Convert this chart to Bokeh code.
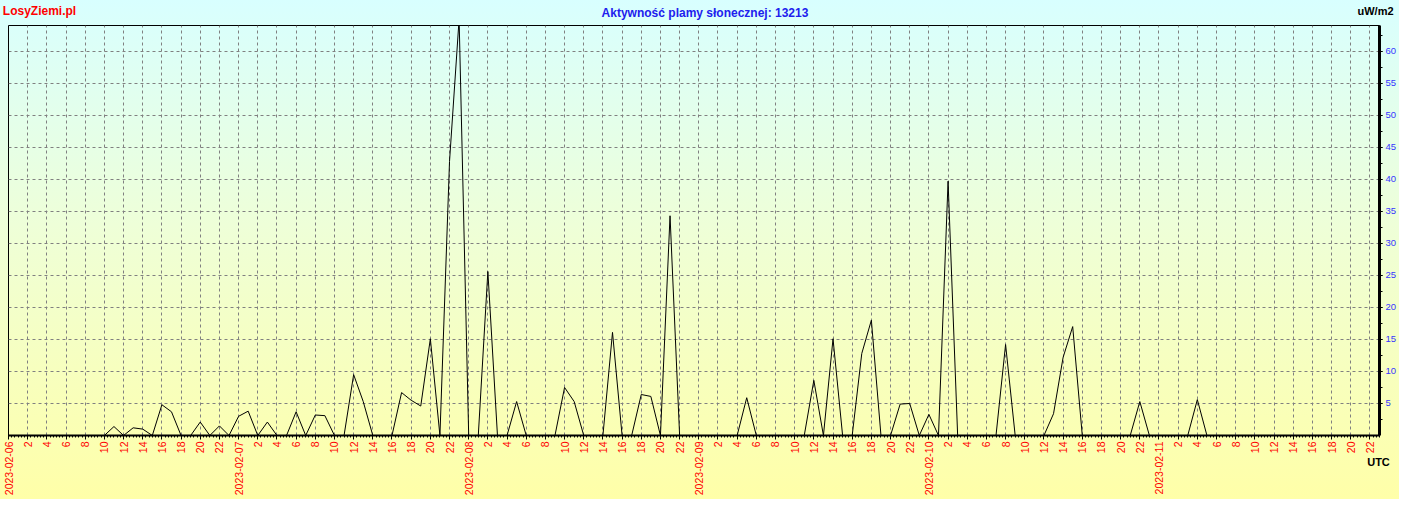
import math
from bokeh.plotting import figure
from bokeh.models import FixedTicker, Range1d, LinearAxis
from bokeh.embed import file_html
from bokeh.resources import INLINE

# ---- data -------------------------------------------------------------
title_text = "Aktywność plamy słonecznej: 13213"
site_text = "LosyZiemi.pl"
unit_text = "uW/m2"
time_text = "UTC"

dates = ["2023-02-06", "2023-02-07", "2023-02-08", "2023-02-09", "2023-02-10", "2023-02-11"]

# hourly values (uW/m2), hour 0 = 2023-02-06 00 UTC
day1 = [0, 0, 0, 0, 0, 0, 0, 0, 0, 0, 0, 1.4, 0, 1.2, 1.0, 0, 4.8, 3.7, 0, 0, 2.1, 0, 1.5, 0]
day2 = [3.0, 3.8, 0, 2.1, 0, 0, 3.7, 0, 3.2, 3.1, 0, 0, 9.5, 5.3, 0, 0, 0, 6.7, 5.5, 4.6, 15.1, 0, 42.8, 65.0]
day3 = [0, 0, 25.6, 0, 0, 5.3, 0, 0, 0, 0, 7.5, 5.3, 0, 0, 0, 16.1, 0, 0, 6.4, 6.1, 0, 34.3, 0, 0]
day4 = [0, 0, 0, 0, 0, 5.9, 0, 0, 0, 0, 0, 0, 8.6, 0, 15.1, 0, 0, 12.8, 18.0, 0, 0, 4.9, 5.0, 0]
day5 = [3.3, 0, 39.7, 0, 0, 0, 0, 0, 14.2, 0, 0, 0, 0, 3.4, 12.2, 17.0, 0, 0, 0, 0, 0, 0, 5.3, 0]
day6 = [0, 0, 0, 0, 5.6, 0, 0, 0, 0, 0, 0, 0, 0, 0, 0, 0, 0, 0, 0, 0, 0, 0, 0, 0]

values = day1 + day2 + day3 + day4 + day5 + day6
hours = list(range(len(values)))

y_ticks = [5, 10, 15, 20, 25, 30, 35, 40, 45, 50, 55, 60]

# ---- layout constants (pixels) ----------------------------------------
W, H = 1399, 499
B_LEFT, B_RIGHT, B_TOP, B_BOTTOM = 8, 19, 25, 64
X0, X1 = 0, 143
Y0, Y1 = 0, 64
frame_w = W - B_LEFT - B_RIGHT


def hx(px):
    """canvas x pixel -> hour coordinate (kept inside the x range)"""
    return round(min(X1, max(X0, X0 + (px - B_LEFT) * (X1 - X0) / frame_w)), 3)


p = figure(width=W, height=H, output_backend="svg", toolbar_location=None,
           x_range=Range1d(X0, X1), y_range=Range1d(Y0, Y1),
           y_axis_location="right",
           min_border_left=B_LEFT, min_border_right=B_RIGHT,
           min_border_top=B_TOP, min_border_bottom=B_BOTTOM)

p.styles = {"background-image": "linear-gradient(to bottom, #D8FFFF 0%, #EEFFD8 45%, #FFFFA8 100%)"}
p.border_fill_color = None
p.background_fill_color = None
p.outline_line_color = "black"
p.outline_line_width = 1

# ---- x axis -----------------------------------------------------------
x_major = list(range(0, 143, 2))
x_minor = [i / 3 for i in range(0, 430)]
xa = p.xaxis[0]
xa.ticker = FixedTicker(ticks=x_major, minor_ticks=x_minor)
overrides = {}
for h in x_major:
    overrides[h] = dates[h // 24] if h % 24 == 0 else str(h % 24)
xa.major_label_overrides = overrides
xa.major_label_orientation = math.pi / 2
xa.major_label_text_color = "#FF0000"
xa.major_label_text_font = "Liberation Sans"
xa.major_label_text_font_size = "10.5px"
xa.major_label_standoff = 2
xa.axis_line_width = 2
xa.axis_line_color = "black"
xa.major_tick_out = 4
xa.major_tick_in = 0
xa.minor_tick_out = 2
xa.minor_tick_in = 0

# ---- y axis (right) ---------------------------------------------------
ya = p.yaxis[0]
ya.ticker = FixedTicker(ticks=y_ticks, minor_ticks=[v / 2 for v in range(5, 128, 5)])
ya.major_label_text_color = "#3535FF"
ya.major_label_text_font = "Liberation Sans"
ya.major_label_text_font_size = "9.5px"
ya.major_label_standoff = 3
ya.axis_line_width = 3
ya.axis_line_color = "black"
ya.major_tick_out = 3
ya.major_tick_in = 0
ya.minor_tick_out = 3
ya.minor_tick_in = 0

# ---- grids ------------------------------------------------------------
p.xgrid.ticker = FixedTicker(ticks=x_major)
p.ygrid.ticker = FixedTicker(ticks=y_ticks)
for g in (p.xgrid[0], p.ygrid[0]):
    g.grid_line_color = "#808080"
    g.grid_line_dash = "3 3"
    g.grid_line_width = 1

# ---- data line --------------------------------------------------------
p.line(hours, values, line_color="black", line_width=1)


# ---- texts outside the frame: label-only axes in the side panels -------
def text_axis(side, text, cx, standoff, color, size):
    hpos = hx(cx)
    ax = LinearAxis(ticker=FixedTicker(ticks=[hpos], minor_ticks=[]),
                    major_label_overrides={hpos: text},
                    axis_line_color=None, major_tick_line_color=None,
                    minor_tick_line_color=None,
                    major_tick_out=0, major_tick_in=0,
                    minor_tick_out=0, minor_tick_in=0,
                    major_label_standoff=standoff,
                    major_label_text_color=color,
                    major_label_text_font="Liberation Sans",
                    major_label_text_font_style="bold",
                    major_label_text_font_size=size)
    p.add_layout(ax, side)


# top row: the title axis sits next to the frame, the others share its row
text_axis("above", title_text, 705, 6, "#2020EE", "12px")
text_axis("above", unit_text, 1376, -14, "black", "11px")
text_axis("above", site_text, 39, -16, "#FF0000", "12px")
# bottom right, beside the hour labels
text_axis("below", time_text, 1379, -43, "black", "11px")

open("out.html", "w").write(file_html(p, INLINE))
